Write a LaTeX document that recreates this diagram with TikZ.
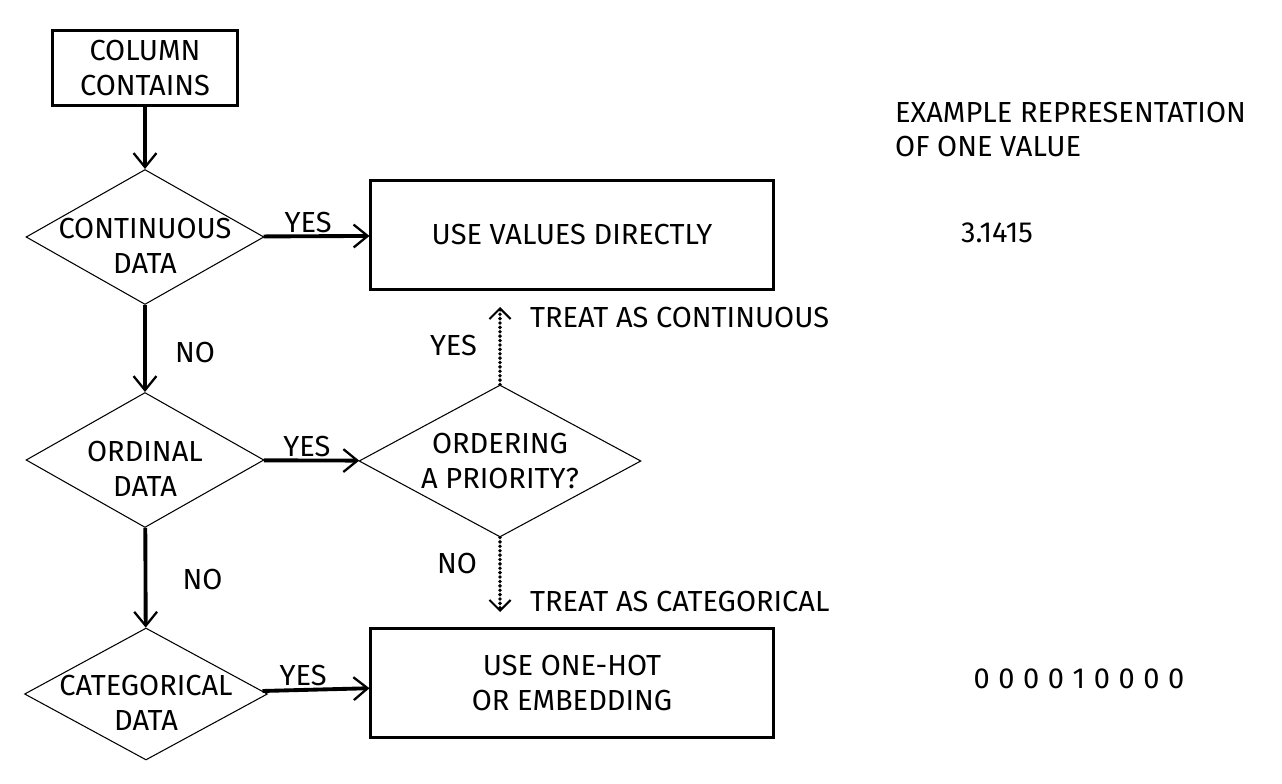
\documentclass[tikz,border=0pt]{standalone}
\usepackage{fontspec}
\setmainfont{Fira Sans}
\usetikzlibrary{shapes.geometric,arrows.meta}

\newcommand{\bitgap}{\hspace{4.9pt}}

\tikzset{
  box/.style={draw, line width=1.2pt, minimum width=8.06cm, minimum height=2.18cm, align=center},
  choice/.style={draw, diamond, aspect=1.8, line width=0.6pt, inner sep=0pt, align=center},
  inside/.style={align=center, yshift=-5pt},
  flow/.style={line width=2.2pt, -{Straight Barb[length=8pt,width=13pt,line width=1.3pt]}},
  maybe/.style={line width=2.2pt, line cap=round, dash pattern=on 0pt off 2.5pt,
    -{Straight Barb[length=6pt,width=12pt,line width=1.2pt]}},
  lbl/.style={inner sep=1pt},
}

\begin{document}
\begin{tikzpicture}[x=0.02cm, y=-0.02cm, every node/.style={font=\fontsize{16.5}{19.5}\selectfont}]
\useasboundingbox (0,0) rectangle (1282,784);

% left column of questions
\node [draw, line width=1.2pt, minimum width=3.7cm, minimum height=1.5cm, align=center] (col) at (145,68) {COLUMN\\CONTAINS};
\node [choice, minimum width=4.76cm, minimum height=2.7cm, label={[inside]center:CONTINUOUS\\DATA}] (cont) at (145,237) {};
\node [choice, minimum width=4.76cm, minimum height=2.7cm, label={[inside]center:ORDINAL\\DATA}] (ord) at (145,460) {};
\node [choice, minimum width=4.86cm, minimum height=2.64cm, label={[inside]center:CATEGORICAL\\DATA}] (cat) at (146,694) {};

% outcomes
\node [box] (direct) at (572,235) {USE VALUES DIRECTLY};
\node [choice, minimum width=5.64cm, minimum height=3.04cm] (prio) at (500,461) {ORDERING\\A PRIORITY?};
\node [box] (onehot) at (572,683) {USE ONE-HOT\\OR EMBEDDING};
\coordinate (up) at (500,307);
\coordinate (down) at (500,612);
\node [anchor=west] (ascont) at (524,318) {TREAT AS CONTINUOUS};
\node [anchor=west] (ascat) at (524,602) {TREAT AS CATEGORICAL};

% example column
\node [anchor=north west, align=left] (hdr) at (889,96) {EXAMPLE REPRESENTATION\\OF ONE VALUE};
\node (pi) at (997,233) {3.1415};
\node (bits) at (1079,679) {0\bitgap0\bitgap0\bitgap0\bitgap1\bitgap0\bitgap0\bitgap0\bitgap0};

\draw [flow] (col) -- (cont);
\draw [flow] (cont) -- node[lbl, above, pos=0.42] {YES} (direct);
\draw [flow] (cont) -- node[lbl, right=15pt, pos=0.55] {NO} (ord);
\draw [flow] (ord) -- node[lbl, above, pos=0.45] {YES} (prio);
\draw [flow] (ord) -- node[lbl, right=19pt, pos=0.52] {NO} (cat);
\draw [flow] (cat) -- node[lbl, above, pos=0.38] {YES} (onehot);
\draw [maybe] (prio) -- node[lbl, left=11pt, pos=0.5] {YES} (up);
\draw [maybe] (prio) -- node[lbl, left=11pt, pos=0.35] {NO} (down);
\end{tikzpicture}
\end{document}
